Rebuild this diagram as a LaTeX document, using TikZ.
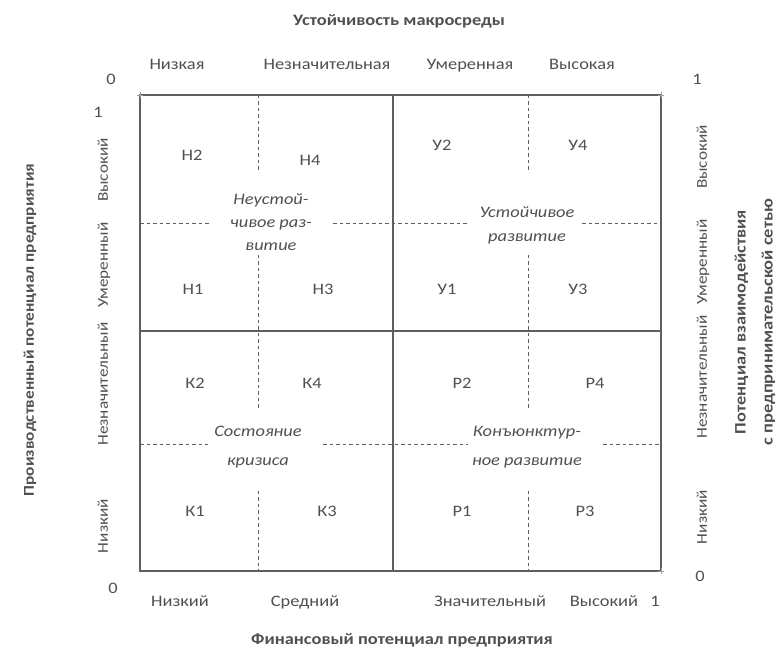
\documentclass[tikz,border=0pt]{standalone}
\usepackage{fontspec}
\setmainfont{Carlito}[FakeStretch=1.15]
\definecolor{ink}{RGB}{80,80,80}
\definecolor{rulec}{RGB}{95,95,95}

\begin{document}
\begin{tikzpicture}[x=1pt,y=-1pt,
  txt/.style={text=ink,inner sep=0pt},
  lbl/.style={txt,text height=11pt,text depth=3.5pt,font=\fontsize{16}{19}\selectfont},
  side/.style={lbl,rotate=90,font=\fontsize{15}{18}\selectfont},
  ttl/.style={txt,font=\fontsize{16}{27}\selectfont\bfseries,align=center},
  zone/.style={txt,font=\fontsize{16}{#1}\selectfont\itshape,align=center},
  frm/.style={draw=rulec,line width=1.1pt},
  brk/.style={draw=rulec,line width=0.9pt,dash pattern=on 3.5pt off 3pt},
  tick/.style={draw=rulec!60,line width=0.6pt}]
\useasboundingbox (0,0) rectangle (780,660);
% frame and quadrants
\coordinate (tl) at (140,95);\coordinate (br) at (661,571);
\draw[frm] (tl) rectangle (br);
\draw[frm] (393,95)--(393,571);\draw[frm] (140,331)--(661,331);
\foreach\p in{(140,95),(661,95),(661,571)}{\draw[tick]\p+(-3,0)--+(3,0)\p+(0,-3)--+(0,3);}
% dashed sub-divisions
\foreach\x in{258,528}{\draw[brk](\x,95)--(\x,173);\draw[brk](\x,255)--(\x,409);\draw[brk](\x,491)--(\x,571);}
\draw[brk](140,223)--(210,223);\draw[brk](333,223)--(467,223);\draw[brk](582,223)--(661,223);
\draw[brk](140,444)--(208,444);\draw[brk](323,444)--(468,444);\draw[brk](603,444)--(661,444);
% cells
\foreach[count=\i]\t/\x/\y in{Н2/192/157,Н4/310/162,У2/442/147,У4/578/147,Н1/193/291,Н3/323/291,У1/447/291,У3/578/291,
  К2/195/385,К4/312/385,Р2/462/385,Р4/595/385,К1/195/513,К3/327/513,Р1/462/513,Р3/585/513}{\node[lbl](c\i)at(\x,\y){\t};}
\node[zone=23](zN)at(271,222){Неустой-\\чивое раз-\\витие};
\node[zone=24](zU)at(527,225){Устойчивое\\развитие};
\node[zone=29](zK)at(258,447){Состояние\\кризиса};
\node[zone=29](zR)at(527,447){Конъюнктур-\\ное развитие};
% top axis
\node[ttl](topT)at(399,21){Устойчивость макросреды};
\foreach[count=\i]\t/\x in{Низкая/177,Незначительная/327,Умеренная/470,Высокая/582}{\node[lbl](t\i)at(\x,66){\t};}
\node[lbl](t0)at(111,81){0};\node[lbl](t5)at(697,81){1};
% bottom axis
\node[ttl](botT)at(402,640){Финансовый потенциал предприятия};
\foreach[count=\i]\t/\x in{Низкий/180,Средний/305,Значительный/490,Высокий/604}{\node[lbl](b\i)at(\x,603){\t};}
\node[lbl](b5)at(655,603){1};
% left axis
\node[ttl,rotate=90,font=\fontsize{15}{18}\selectfont\bfseries](lefT)at(30,330){Производственный потенциал предприятия};
\foreach[count=\i]\t/\y in{Высокий/170,Умеренный/265,Незначительный/384,Низкий/526}{\node[side](l\i)at(104,\y){\t};}
\node[lbl](l0)at(113,590){0};\node[lbl](l5)at(98,114){1};
% right axis
\node[ttl,rotate=90](rigT)at(755,322){Потенциал взаимодействия\\с предпринимательской сетью};
\foreach[count=\i]\t/\y in{Высокий/157,Умеренный/262,Незначительный/377,Низкий/517}{\node[side](r\i)at(703,\y){\t};}
\node[lbl](r0)at(700,578){0};
\end{tikzpicture}
\end{document}
